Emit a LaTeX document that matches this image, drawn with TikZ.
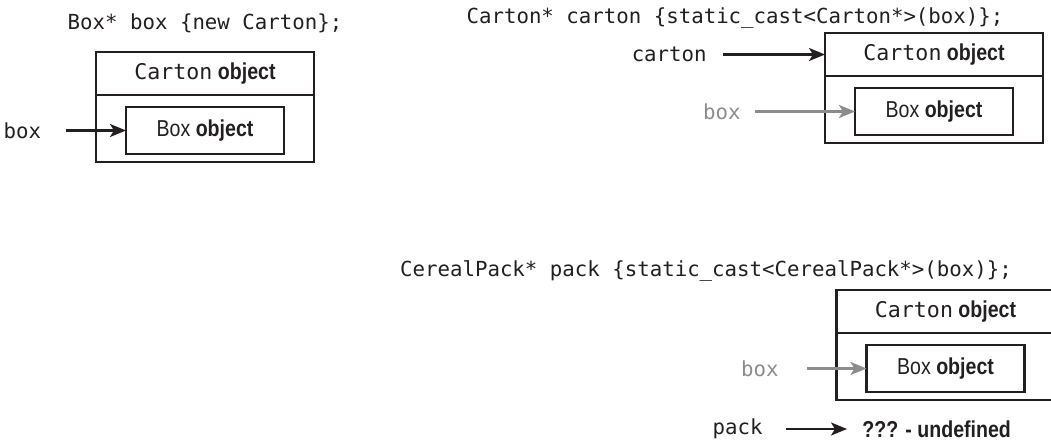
\documentclass[tikz,border=0pt]{standalone}
\usepackage{fontspec}
\newfontfamily\codefont{DejaVu Sans Mono}
\newfontfamily\narrowfont{Liberation Sans}[FakeStretch=0.85, BoldFeatures={FakeStretch=0.85}]
\usetikzlibrary{arrows.meta,positioning}
\definecolor{inkblack}{HTML}{231F20}
\definecolor{ptrgray}{HTML}{8C8C8C}
\tikzset{
  >={Stealth[length=3.2mm,width=2.6mm,inset=0.8mm]},
  codeline/.style={
    font=\codefont\fontsize{11.8}{14}\selectfont,
    text=inkblack,
    inner sep=0pt,
    anchor=base,
  },
  ptrname/.style={font=\codefont\fontsize{11.8}{14}\selectfont, text=inkblack, inner sep=0pt},
  ptrfaint/.style={ptrname, text=ptrgray},
  objhead/.style={
    draw=inkblack,
    line width=1.2pt,
    minimum width=4.36cm,
    minimum height=0.86cm,
    inner sep=0pt,
    outer sep=0pt,
    text=inkblack,
    font=\narrowfont\fontsize{13.1}{15}\selectfont,
  },
  objbody/.style={objhead, minimum height=1.34cm},
  objinner/.style={objhead, minimum width=3.16cm, minimum height=0.94cm},
  undefnote/.style={font=\narrowfont\bfseries\fontsize{13.1}{15}\selectfont, text=inkblack, inner sep=0pt, anchor=west},
  ptrarrow/.style={line width=1.2pt, draw=inkblack},
  ptrarrowfaint/.style={ptrarrow, draw=ptrgray},
}

\begin{document}
\begin{tikzpicture}[line cap=butt, line join=miter]
  \useasboundingbox (0,0) rectangle (21.02,8.86);

  \node[codeline] (code-one) at (4.10, 8.26) {Box* box \{new Carton\};};
  \node[codeline] (code-two) at (14.70, 8.38) {Carton* carton \{static\_cast<Carton*>(box)\};};
  \node[codeline] (code-three) at (14.12, 3.32) {CerealPack* pack \{static\_cast<CerealPack*>(box)\};};

  \foreach \obj/\x/\y in {one/4.10/7.39, two/18.68/7.77, three/18.91/2.63} {
    \node[objhead] (head-\obj) at (\x, \y)
      {{\codefont\fontsize{12.3}{14}\selectfont Carton} \textbf{object}};
    \node[objbody, below=0pt of head-\obj] (body-\obj) {};
    \node[objinner, yshift=-0.04cm] (inner-\obj) at (body-\obj.center) {Box \textbf{object}};
  }

  \node[ptrname, left=1.69cm of inner-one] (ptr-box-one) {box};
  \node[ptrname, left=2.36cm of head-two] (ptr-carton) {carton};
  \node[ptrfaint, left=2.28cm of inner-two] (ptr-box-two) {box};
  \node[ptrfaint, left=1.75cm of inner-three] (ptr-box-three) {box};
  \node[undefnote] (undef) at (17.24, 0.28) {??? - undefined};
  \node[ptrname, left=1.98cm of undef] (ptr-pack) {pack};

  \draw[->, ptrarrow, shorten <=0.48cm] (ptr-box-one) -- (inner-one);
  \draw[->, ptrarrow, shorten <=0.32cm] (ptr-carton) -- (head-two);
  \draw[->, ptrarrowfaint, shorten <=0.28cm] (ptr-box-two) -- (inner-two);
  \draw[->, ptrarrowfaint, shorten <=0.56cm] (ptr-box-three) -- (inner-three);
  \draw[->, ptrarrow, shorten <=0.46cm, shorten >=0.30cm] (ptr-pack) -- (undef);
\end{tikzpicture}
\end{document}
